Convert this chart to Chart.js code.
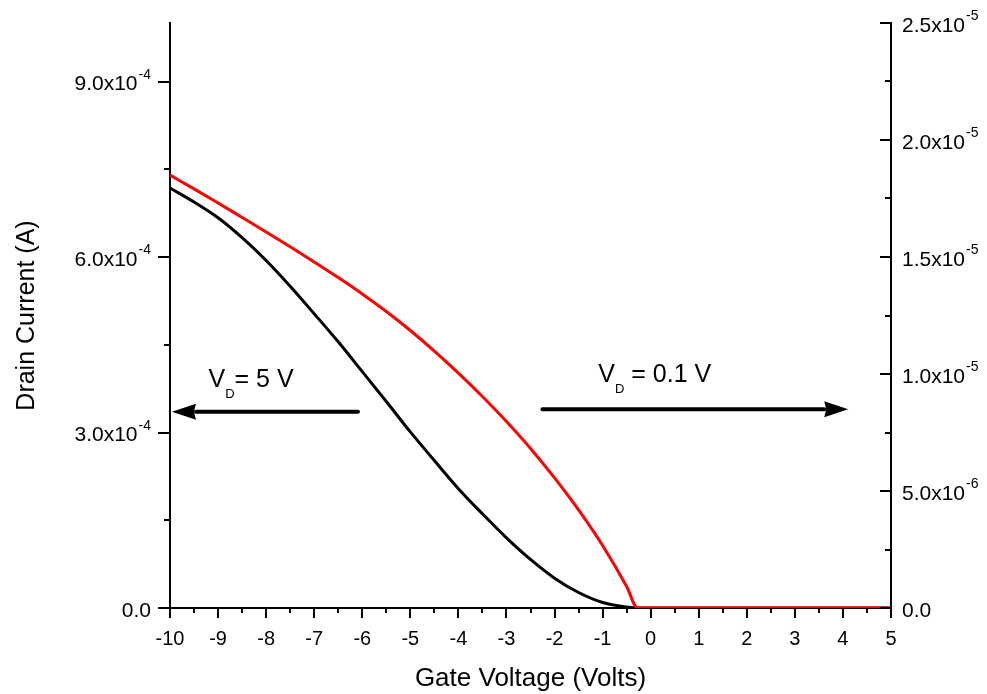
<!DOCTYPE html>
<html>
<head>
<meta charset="utf-8">
<title>Drain current vs gate voltage</title>
<script src="https://cdn.jsdelivr.net/npm/chart.js@4.4.1/dist/chart.umd.min.js"></script>
<style>
  html, body { margin: 0; padding: 0; background: #fff; }
  canvas { display: block; }
</style>
</head>
<body>
<canvas id="chart" width="987" height="694"></canvas>
<script>
// values
const gateVoltage = [-10, -9.5, -9, -8.5, -8, -7.5, -7, -6.5, -6, -5.5, -5, -4.5, -4, -3.5, -3, -2.5, -2, -1.5, -1, -0.5, -0.27, 0, 1, 2, 3, 4, 5];
const drainCurrentVd5 = [
  7.18e-4, 6.94e-4, 6.67e-4, 6.33e-4, 5.94e-4, 5.50e-4, 5.03e-4, 4.55e-4, 4.04e-4, 3.53e-4,
  3.01e-4, 2.52e-4, 2.04e-4, 1.61e-4, 1.20e-4, 8.3e-5, 5.1e-5, 2.65e-5, 9.4e-6, 1.7e-6,
  0, 0, 0, 0, 0, 0, 0,
];
const drainCurrentVd01 = [
  1.850e-5, 1.791e-5, 1.731e-5, 1.669e-5, 1.607e-5, 1.544e-5, 1.479e-5, 1.412e-5, 1.342e-5, 1.267e-5,
  1.186e-5, 1.098e-5, 1.004e-5, 9.04e-6, 7.97e-6, 6.82e-6, 5.56e-6, 4.19e-6, 2.67e-6, 9.2e-7,
  0, 0, 0, 0, 0, 0, 0,
];

const leftTickValues = [0, 3e-4, 6e-4, 9e-4];
const leftTickLabels = ['0.0', '3.0x10^-4', '6.0x10^-4', '9.0x10^-4'];
const rightTickValues = [0, 5e-6, 1e-5, 1.5e-5, 2e-5, 2.5e-5];
const rightTickLabels = ['0.0', '5.0x10^-6', '1.0x10^-5', '1.5x10^-5', '2.0x10^-5', '2.5x10^-5'];

const FONT = '"Liberation Sans", Arial, Helvetica, sans-serif';

// arrows + V_D notes, in data units of the bottom / left axes
const notes = [
  { from: -6.09, to: -9.96, y: 3.356e-4, textX: -9.20, textY: 3.78e-4, after: '= 5 V' },
  { from: -2.25, to: 4.11, y: 3.397e-4, textX: -1.09, textY: 3.87e-4, after: ' = 0.1 V' },
];

Chart.defaults.font.family = FONT;
Chart.defaults.color = '#000';

function line(ctx, x0, y0, x1, y1) {
  ctx.beginPath();
  ctx.moveTo(x0, y0);
  ctx.lineTo(x1, y1);
  ctx.stroke();
}

function sciLabel(ctx, text, xPos, yPix, align) {
  const [main, sup] = text.split('^');
  ctx.font = '21px ' + FONT;
  const wMain = ctx.measureText(main).width;
  ctx.font = '14px ' + FONT;
  const wSup = sup ? ctx.measureText(sup).width + 1 : 0;
  const start = align === 'right' ? xPos - wMain - wSup : xPos;
  ctx.font = '21px ' + FONT;
  ctx.fillText(main, start, yPix + 8.5);
  if (sup) {
    ctx.font = '14px ' + FONT;
    ctx.fillText(sup, start + wMain + 1, yPix - 3);
  }
}

function arrow(ctx, x0, x1, yy) {
  const dir = Math.sign(x1 - x0);
  const head = 24, half = 8;
  ctx.lineWidth = 4;
  ctx.lineCap = 'round';
  line(ctx, x0, yy, x1 - dir * head, yy);
  ctx.beginPath();
  ctx.moveTo(x1, yy);
  ctx.lineTo(x1 - dir * head, yy - half);
  ctx.lineTo(x1 - dir * head + dir * 2, yy);
  ctx.lineTo(x1 - dir * head, yy + half);
  ctx.closePath();
  ctx.fill();
}

// Origin-style ticks (major + minor), y tick labels with superscripts, arrows
const decor = {
  id: 'decor',
  afterDraw(chart) {
    const { ctx } = chart;
    const { x, y, y1 } = chart.scales;
    ctx.save();
    ctx.strokeStyle = '#000';
    ctx.fillStyle = '#000';
    ctx.lineWidth = 2;
    ctx.lineCap = 'butt';

    // bottom axis: every 0.5 V, pointing down
    for (let v = x.min; v <= x.max + 1e-9; v += 0.5) {
      const px = Math.round(x.getPixelForValue(v));
      line(ctx, px, x.top, px, x.top + (Number.isInteger(v) ? 10 : 5));
    }

    // left axis: outward ticks
    leftTickValues.forEach((v, i) => {
      const py = Math.round(y.getPixelForValue(v));
      line(ctx, y.right, py, y.right - 12, py);
      if (i < leftTickValues.length - 1) {
        const pm = Math.round(y.getPixelForValue((v + leftTickValues[i + 1]) / 2));
        line(ctx, y.right, pm, y.right - 6, pm);
      }
    });

    // right axis: inward ticks
    rightTickValues.forEach((v, i) => {
      const py = Math.round(y1.getPixelForValue(v));
      line(ctx, y1.left, py, y1.left - 11, py);
      if (i < rightTickValues.length - 1) {
        const pm = Math.round(y1.getPixelForValue((v + rightTickValues[i + 1]) / 2));
        line(ctx, y1.left, pm, y1.left - 6, pm);
      }
    });

    ctx.textAlign = 'left';
    ctx.textBaseline = 'alphabetic';
    leftTickValues.forEach((v, i) => {
      sciLabel(ctx, leftTickLabels[i], y.right - 19, y.getPixelForValue(v), 'right');
    });
    rightTickValues.forEach((v, i) => {
      sciLabel(ctx, rightTickLabels[i], y1.left + 11, y1.getPixelForValue(v), 'left');
    });

    notes.forEach(n => {
      arrow(ctx, x.getPixelForValue(n.from), x.getPixelForValue(n.to), y.getPixelForValue(n.y));
      const tx = x.getPixelForValue(n.textX);
      const ty = y.getPixelForValue(n.textY);
      ctx.font = '25px ' + FONT;
      ctx.fillText('V', tx, ty);
      let cx = tx + ctx.measureText('V').width;
      ctx.font = '13px ' + FONT;
      ctx.fillText('D', cx, ty + 11);
      cx += ctx.measureText('D').width;
      ctx.font = '25px ' + FONT;
      ctx.fillText(n.after, cx, ty);
    });
    ctx.restore();
  }
};

const toPoints = (xs, ys) => xs.map((v, i) => ({ x: v, y: ys[i] }));

new Chart(document.getElementById('chart'), {
  type: 'line',
  data: {
    datasets: [
      {
        label: 'VD = 0.1 V',
        data: toPoints(gateVoltage, drainCurrentVd01),
        yAxisID: 'y1',
        borderColor: '#ff0000',
        borderWidth: 3,
        pointRadius: 0,
        cubicInterpolationMode: 'monotone',
        order: 0,
      },
      {
        label: 'VD = 5 V',
        data: toPoints(gateVoltage, drainCurrentVd5),
        yAxisID: 'y',
        borderColor: '#000000',
        borderWidth: 3,
        pointRadius: 0,
        cubicInterpolationMode: 'monotone',
        order: 1,
      },
    ],
  },
  options: {
    responsive: false,
    animation: false,
    layout: { padding: { top: 23, right: 0, bottom: 0, left: 0 } },
    plugins: {
      legend: { display: false },
      tooltip: { enabled: false },
    },
    scales: {
      x: {
        type: 'linear',
        min: -10,
        max: 5,
        afterFit: (s) => { s.height = 86; },
        grid: { display: false, drawTicks: false },
        border: { display: true, color: '#000', width: 2 },
        ticks: {
          stepSize: 1,
          autoSkip: false,
          maxRotation: 0,
          padding: 19,
          color: '#000',
          font: { size: 20 },
        },
        title: {
          display: true,
          text: 'Gate Voltage (Volts)',
          color: '#000',
          font: { size: 26 },
          padding: { top: 0, bottom: 0 },
        },
      },
      y: {
        type: 'linear',
        position: 'left',
        min: 0,
        max: 1e-3,
        afterFit: (s) => { s.width = 170; },
        grid: { display: false, drawTicks: false },
        border: { display: true, color: '#000', width: 2 },
        ticks: { display: false },
        title: {
          display: true,
          text: 'Drain Current (A)',
          color: '#000',
          font: { size: 25 },
          padding: { top: 12, bottom: 0 },
        },
      },
      y1: {
        type: 'linear',
        position: 'right',
        min: 0,
        max: 2.5e-5,
        afterFit: (s) => { s.width = 96; },
        grid: { display: false, drawTicks: false },
        border: { display: true, color: '#000', width: 2 },
        ticks: { display: false },
      },
    },
  },
  plugins: [decor],
});
</script>
</body>
</html>
